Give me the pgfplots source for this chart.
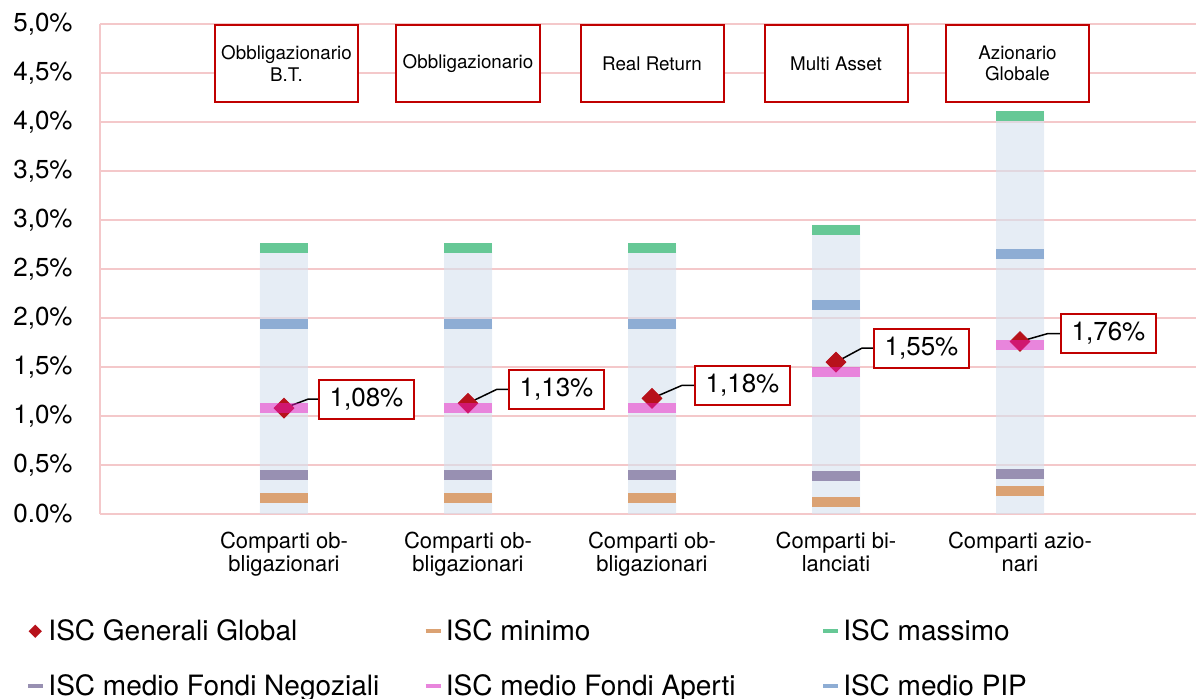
\documentclass[border=0pt]{standalone}
\usepackage{fontspec}
\setmainfont{TeX Gyre Heros}
\usepackage{pgfplots}
\pgfplotsset{compat=1.18}
\usepackage{pgfplotstable}

\definecolor{gridpink}{RGB}{244,200,202}
\definecolor{boxred}{RGB}{192,0,0}
\definecolor{ggred}{RGB}{183,18,27}
\definecolor{cmin}{RGB}{219,162,115}
\definecolor{cmax}{RGB}{102,200,150}
\definecolor{cneg}{RGB}{152,144,178}
\definecolor{cape}{RGB}{232,133,220}
\definecolor{capeb}{RGB}{234,29,195}
\definecolor{cpip}{RGB}{142,173,212}
\definecolor{cbg}{RGB}{213,225,238}

\pgfplotstableread{
x  top   mn    neg   ape   pip   mx    gg
1  2.76  0.16  0.40  1.08  1.94  2.71  1.08
2  2.76  0.16  0.40  1.08  1.94  2.71  1.13
3  2.76  0.16  0.40  1.08  1.94  2.71  1.18
4  2.95  0.12  0.39  1.45  2.13  2.90  1.55
5  4.11  0.23  0.41  1.72  2.65  4.06  1.76
}\datatable

\newcommand\legtext[1]{\makebox[187.5pt][l]{#1}}
\tikzset{
  topbox/.style={draw=boxred, line width=1pt, fill=white, anchor=north, align=center,
    minimum width=71.5pt, minimum height=38.5pt, inner sep=1pt,
    font=\fontsize{9.4}{10.8}\selectfont},
  lblbox/.style={draw=boxred, line width=1pt, fill=white, anchor=west,
    minimum width=47.5pt, minimum height=19.5pt, inner sep=1pt,
    font=\fontsize{13}{15}\selectfont},
  conn/.style={black, line width=0.75pt},
}
\pgfplotsset{
  linelegend/.style={legend image code/.code={%
      \path[draw=none, fill=none] (0pt,-4pt) rectangle (7.5pt,4pt);
      \draw[#1, line width=2.2pt] (0pt,0pt) -- (7.5pt,0pt);}},
}

\begin{document}
\begin{tikzpicture}
\begin{axis}[
  scale only axis, width=548pt, height=245pt,
  at={(50pt,92.5pt)}, anchor=south west,
  xmin=0, xmax=5.9565, ymin=0, ymax=5,
  axis line style={draw=none},
  major tick length=0pt,
  ytick={0,0.5,1,1.5,2,2.5,3,3.5,4,4.5,5},
  yticklabels={0.0\%,{0,5\%},{1,0\%},{1,5\%},{2,0\%},{2,5\%},{3,0\%},{3,5\%},{4,0\%},{4,5\%},{5,0\%}},
  yticklabel style={inner sep=0pt, xshift=-13.5pt, font=\fontsize{13}{15}\selectfont},
  xtick={1,2,3,4,5},
  xticklabels={{Comparti ob-\\bligazionari},{Comparti ob-\\bligazionari},{Comparti ob-\\bligazionari},{Comparti bi-\\lanciati},{Comparti azio-\\nari}},
  xticklabel style={inner sep=0pt, yshift=-9pt, align=center, font=\fontsize{11}{11.5}\selectfont},
  ymajorgrids, grid style={gridpink, line width=1pt},
  clip=false,
  legend columns=3,
  legend cell align=left,
  legend style={draw=none, fill=none, at={(axis description cs:-0.0678,-0.214)}, anchor=north west,
    font=\fontsize{14}{16}\selectfont, inner sep=0pt, row sep=15.5pt,
    nodes={inner sep=0pt},
    /tikz/every odd column/.append style={column sep=1.5pt}},
]
% legend
\addlegendimage{legend image code/.code={%
    \path[draw=none, fill=none] (0pt,-4pt) rectangle (7.5pt,4pt);
    \fill[ggred, draw=none] (3.5pt,3.3pt) -- (6.8pt,0pt) -- (3.5pt,-3.3pt) -- (0.2pt,0pt) -- cycle;}}
\addlegendentry{\legtext{ISC Generali Global}}
\addlegendimage{linelegend=cmin}
\addlegendentry{\legtext{ISC minimo}}
\addlegendimage{linelegend=cmax}
\addlegendentry{ISC massimo}
\addlegendimage{linelegend=cneg}
\addlegendentry{\legtext{ISC medio Fondi Negoziali}}
\addlegendimage{linelegend=cape}
\addlegendentry{\legtext{ISC medio Fondi Aperti}}
\addlegendimage{linelegend=cpip}
\addlegendentry{ISC medio PIP}

% left pink line
\draw[gridpink, line width=1pt] (rel axis cs:0,0) -- (rel axis cs:0,1);

% background columns
\addplot[ybar, bar width=24pt, fill=cbg, fill opacity=0.6, draw=none, forget plot]
  table[x=x, y=top]{\datatable};
% levels
\addplot[only marks, color=cmin, mark=-, mark size=12pt, mark options={line width=5pt}, forget plot]
  table[x=x, y=mn]{\datatable};
\addplot[only marks, color=cneg, mark=-, mark size=12pt, mark options={line width=5pt}, forget plot]
  table[x=x, y=neg]{\datatable};
\addplot[only marks, color=cpip, mark=-, mark size=12pt, mark options={line width=5pt}, forget plot]
  table[x=x, y=pip]{\datatable};
\addplot[only marks, color=cmax, mark=-, mark size=12pt, mark options={line width=5pt}, forget plot]
  table[x=x, y=mx]{\datatable};
% Generali Global
\addplot[only marks, color=ggred, mark=square*, mark size=3.5pt, mark options={rotate=45, fill=ggred, draw=ggred}, forget plot]
  table[x=x, y=gg]{\datatable};
% Fondi Aperti (semi-transparent on top)
\addplot[only marks, color=capeb, mark=-, mark size=12pt, mark options={line width=5pt, draw opacity=0.5}, forget plot]
  table[x=x, y=ape]{\datatable};

% connectors and labels
\draw[conn] (axis cs:1,1.08) -- ++(12pt,4.5pt) -- ++(5pt,0pt);
\node[lblbox, xshift=17pt, yshift=4.5pt] at (axis cs:1,1.08) {1,08\%};
\draw[conn] (axis cs:2,1.13) -- ++(14.5pt,7pt) -- ++(5.5pt,0pt);
\node[lblbox, xshift=20pt, yshift=7pt] at (axis cs:2,1.13) {1,13\%};
\draw[conn] (axis cs:3,1.18) -- ++(15pt,6.5pt) -- ++(6pt,0pt);
\node[lblbox, xshift=21pt, yshift=6.5pt] at (axis cs:3,1.18) {1,18\%};
\draw[conn] (axis cs:4,1.55) -- ++(13pt,7pt) -- ++(5.5pt,0pt);
\node[lblbox, xshift=18.5pt, yshift=7pt] at (axis cs:4,1.55) {1,55\%};
\draw[conn] (axis cs:5,1.76) -- ++(14pt,4pt) -- ++(6pt,0pt);
\node[lblbox, xshift=20pt, yshift=4pt] at (axis cs:5,1.76) {1,76\%};

% top boxes
\node[topbox, xshift=1.25pt] at (axis cs:1,5) {Obbligazionario\\B.T.};
\node[topbox] at (axis cs:2,5) {Obbligazionario};
\node[topbox] at (axis cs:3,5) {Real Return};
\node[topbox] at (axis cs:4,5) {Multi Asset};
\node[topbox, xshift=-1.25pt] at (axis cs:5,5) {Azionario\\Globale};
\end{axis}
\pgfresetboundingbox
\path[use as bounding box] (0,0) rectangle (598pt,349.5pt);
\end{tikzpicture}
\end{document}
